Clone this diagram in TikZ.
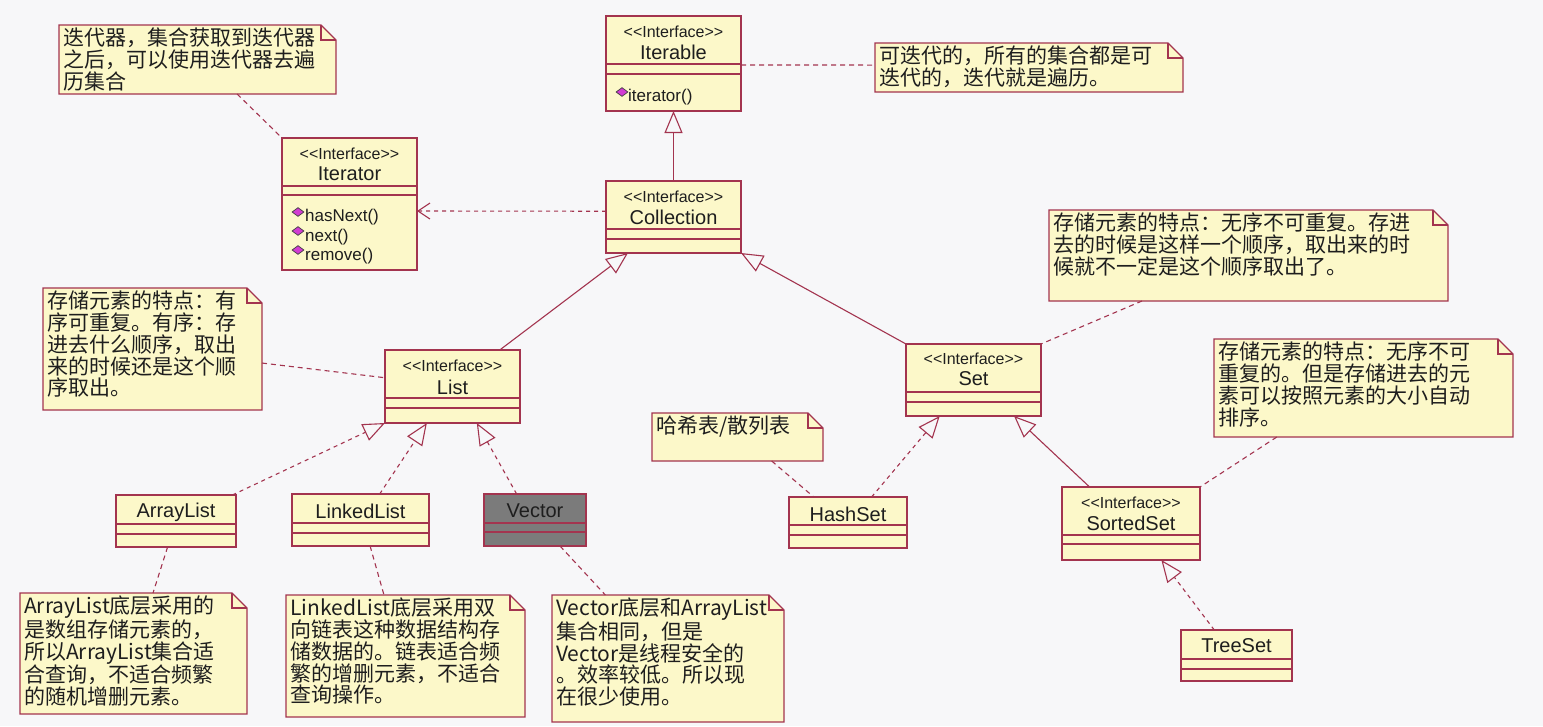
\documentclass[tikz,border=0pt]{standalone}
\usepackage{fontspec}
\setmainfont{Liberation Sans}[Ligatures=NoCommon]
\newfontfamily\cjk{Noto Sans CJK SC}
\usetikzlibrary{arrows.meta,calc,fit,shapes.geometric}

\definecolor{bg}{HTML}{F7F7F9}
\definecolor{boxfill}{HTML}{FCF8C9}
\definecolor{bord}{HTML}{A3344F}
\definecolor{vecfill}{HTML}{7B7B7B}
\definecolor{txt}{HTML}{1E1E1E}
\definecolor{opmag}{HTML}{D23CD2}

\newcommand{\stereotxt}{<{}<Interface>{}>}

\tikzset{
  clsbox/.style={draw=bord, fill=boxfill, line width=1.1pt, inner sep=0pt, outer sep=0pt},
  vecbox/.style={clsbox, fill=vecfill},
  sepline/.style={draw=bord, line width=1.1pt},
  stereo/.style={font=\fontsize{16}{17}\selectfont, text=txt, inner sep=0pt},
  cname/.style={font=\fontsize{20}{22}\selectfont, text=txt, inner sep=0pt},
  opname/.style={font=\fontsize{17}{18}\selectfont, text=txt, inner sep=0pt, anchor=west},
  opmark/.style={diamond, draw=black!75, fill=opmag, line width=0.7pt, inner sep=0pt, minimum width=12pt, minimum height=9pt},
  notebox/.style={draw=bord, fill=boxfill, line width=1.1pt, line join=miter},
  notetext/.style={anchor=north west, align=left, inner sep=0pt, text=txt, font=\cjk\fontsize{21}{21.7}\selectfont},
  gen/.style={draw=bord, line width=1.1pt, -{Triangle[open, length=22pt, width=18pt]}},
  realize/.style={gen, dash pattern=on 4pt off 4pt},
  dep/.style={draw=bord, line width=1.1pt, dash pattern=on 4pt off 4pt, -{Straight Barb[length=12pt, width=16pt]}},
  anchorline/.style={draw=bord, line width=1.1pt, dash pattern=on 5pt off 4pt},
}

% class box: [style]{name}{x1}{y1}{x2}{y2}{sep1}{sep2}
\newcommand{\umlcls}[8][clsbox]{%
  \node[#1, fit={(#3,#4)(#5,#6)}] (#2) {};
  \draw[sepline] (#3,#7) -- (#5,#7) (#3,#8) -- (#5,#8);
}
% note: {name}{x1}{y1}{x2}{y2}{text}
\newcommand{\umlnote}[6]{%
  \node[inner sep=0pt, outer sep=0pt, fit={(#2,#3)(#4,#5)}] (#1) {};
  \filldraw[notebox] (#1.north west) -- ([xshift=-15pt]#1.north east) -- ([yshift=-15pt]#1.north east) -- (#1.south east) -- (#1.south west) -- cycle;
  \draw[notebox, fill=none] ([xshift=-15pt]#1.north east) |- ([yshift=-15pt]#1.north east);
  \node[notetext] (#1t) at ([xshift=4pt, yshift=-3pt]#1.north west) {#6};
}

\begin{document}
\begin{tikzpicture}[x=1pt, y=-1pt]
\useasboundingbox (0,0) rectangle (1543,726);
\fill[bg] (0,0) rectangle (1543,726);

% ---------- classes ----------
\umlcls{iterable}{606}{16}{741}{111}{64}{74}
\node[stereo] (iterableS) at ($(iterable.north)+(0,16)$) {\stereotxt};
\node[cname] (iterableN) at ($(iterable.north)+(0,36)$) {Iterable};
\node[opmark] (opI) at (622,92) {};
\node[opname] (opIt) at (628,97) {iterator()};

\umlcls{iterator}{282}{138}{417}{270}{186}{195}
\node[stereo] (iteratorS) at ($(iterator.north)+(0,16)$) {\stereotxt};
\node[cname] (iteratorN) at ($(iterator.north)+(0,36)$) {Iterator};
\node[opmark] (opA) at (298,212) {};
\node[opname] (opAt) at (305,217) {hasNext()};
\node[opmark] (opB) at (298,231) {};
\node[opname] (opBt) at (305,237) {next()};
\node[opmark] (opC) at (298,250) {};
\node[opname] (opCt) at (305,256) {remove()};

\umlcls{collection}{606}{181}{741}{253}{229}{239}
\node[stereo] (collectionS) at ($(collection.north)+(0,16)$) {\stereotxt};
\node[cname] (collectionN) at ($(collection.north)+(0,36)$) {Collection};

\umlcls{list}{385}{350}{520}{423}{398}{408}
\node[stereo] (listS) at ($(list.north)+(0,16)$) {\stereotxt};
\node[cname] (listN) at ($(list.north)+(0,37)$) {List};

\umlcls{set}{906}{344}{1041}{416}{392}{402}
\node[stereo] (setS) at ($(set.north)+(0,15)$) {\stereotxt};
\node[cname] (setN) at ($(set.north)+(0,35)$) {Set};

\umlcls{arraylist}{116}{495}{236}{547}{524}{534}
\node[cname] (arraylistN) at ($(arraylist.north)+(0,17)$) {ArrayList};

\umlcls{linkedlist}{292}{494}{429}{546}{523}{533}
\node[cname] (linkedlistN) at ($(linkedlist.north)+(0,17)$) {LinkedList};

\umlcls[vecbox]{vector}{484}{494}{586}{546}{523}{532}
\node[cname] (vectorN) at ($(vector.north)+(0,17)$) {Vector};

\umlcls{hashset}{789}{497}{907}{548}{525}{535}
\node[cname] (hashsetN) at ($(hashset.north)+(0,17)$) {HashSet};

\umlcls{sortedset}{1062}{487}{1200}{560}{535}{544}
\node[stereo] (sortedsetS) at ($(sortedset.north)+(0,16)$) {\stereotxt};
\node[cname] (sortedsetN) at ($(sortedset.north)+(0,36)$) {SortedSet};

\umlcls{treeset}{1181}{630}{1292}{681}{659}{669}
\node[cname] (treesetN) at ($(treeset.north)+(0,16)$) {TreeSet};

% ---------- notes ----------
\umlnote{nIter}{59}{25}{336}{94}{迭代器，集合获取到迭代器\\之后，可以使用迭代器去遍\\历集合}
\umlnote{nIterable}{875}{43}{1183}{92}{可迭代的，所有的集合都是可\\迭代的，迭代就是遍历。}
\umlnote{nList}{43}{288}{262}{410}{存储元素的特点：有\\序可重复。有序：存\\进去什么顺序，取出\\来的时候还是这个顺\\序取出。}
\umlnote{nSet}{1049}{210}{1448}{301}{存储元素的特点：无序不可重复。存进\\去的时候是这样一个顺序，取出来的时\\候就不一定是这个顺序取出了。}
\umlnote{nSorted}{1214}{339}{1513}{437}{存储元素的特点：无序不可\\重复的。但是存储进去的元\\素可以按照元素的大小自动\\排序。}
\umlnote{nHash}{652}{413}{823}{461}{哈希表/散列表}
\umlnote{nArray}{20}{593}{247}{714}{ArrayList底层采用的\\是数组存储元素的，\\所以ArrayList集合适\\合查询，不适合频繁\\的随机增删元素。}
\umlnote{nLinked}{286}{595}{525}{717}{LinkedList底层采用双\\向链表这种数据结构存\\储数据的。链表适合频\\繁的增删元素，不适合\\查询操作。}
\umlnote{nVector}{552}{595}{784}{722}{Vector底层和ArrayList\\集合相同，但是\\Vector是线程安全的\\。效率较低。所以现\\在很少使用。}

% ---------- connectors ----------
\draw[gen] (collection.north) -- (iterable.south);
\draw[dep] ($(collection.north west)!0.42!(collection.south west)$) -- ($(iterator.north east)!0.553!(iterator.south east)$);
\draw[anchorline] ($(iterable.north east)!0.516!(iterable.south east)$) -- ($(nIterable.north west)!0.45!(nIterable.south west)$);
\draw[anchorline] ($(nIter.south west)!0.643!(nIter.south east)$) -- (iterator.north west);
\draw[gen] ($(list.north west)!0.85!(list.north east)$) -- ($(collection.south west)!0.163!(collection.south east)$);
\draw[gen] (set.north west) -- (collection.south east);
\draw[anchorline] ($(nList.north east)!0.615!(nList.south east)$) -- ($(list.north west)!0.38!(list.south west)$);
\draw[anchorline] ($(nSet.south west)!0.233!(nSet.south east)$) -- (set.north east);
\draw[realize] ($(arraylist.north west)!0.97!(arraylist.north east)$) -- (list.south west);
\draw[realize] ($(linkedlist.north west)!0.64!(linkedlist.north east)$) -- ($(list.south west)!0.31!(list.south east)$);
\draw[realize] ($(vector.north west)!0.32!(vector.north east)$) -- ($(list.south west)!0.68!(list.south east)$);
\draw[anchorline] ($(arraylist.south west)!0.43!(arraylist.south east)$) -- ($(nArray.north west)!0.586!(nArray.north east)$);
\draw[anchorline] ($(linkedlist.south west)!0.57!(linkedlist.south east)$) -- ($(nLinked.north west)!0.41!(nLinked.north east)$);
\draw[anchorline] ($(vector.south west)!0.745!(vector.south east)$) -- ($(nVector.north west)!0.23!(nVector.north east)$);
\draw[realize] ($(hashset.north west)!0.70!(hashset.north east)$) -- ($(set.south west)!0.25!(set.south east)$);
\draw[gen] ($(sortedset.north west)!0.2!(sortedset.north east)$) -- ($(set.south west)!0.8!(set.south east)$);
\draw[anchorline] ($(nHash.south west)!0.70!(nHash.south east)$) -- ($(hashset.north west)!0.21!(hashset.north east)$);
\draw[anchorline] ($(nSorted.south west)!0.21!(nSorted.south east)$) -- (sortedset.north east);
\draw[realize] ($(treeset.north west)!0.30!(treeset.north east)$) -- ($(sortedset.south west)!0.72!(sortedset.south east)$);
\end{tikzpicture}
\end{document}
